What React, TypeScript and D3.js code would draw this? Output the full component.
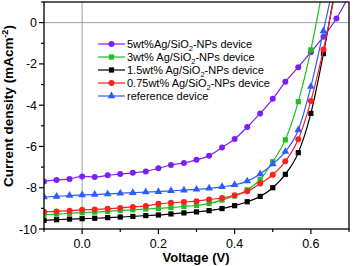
import * as d3 from "d3";

const VOLTAGE = [
  -0.1, -0.067, -0.033, 0, 0.033, 0.067, 0.1, 0.133, 0.167, 0.2, 0.233, 0.267,
  0.3, 0.333, 0.367, 0.4, 0.433, 0.467, 0.5, 0.533, 0.567, 0.6, 0.633, 0.667, 0.7,
];

const J_5WT = [
  -7.7, -7.62, -7.58, -7.45, -7.48, -7.4, -7.34, -7.28, -7.21, -7.06, -6.9, -6.8,
  -6.65, -6.45, -6.05, -5.64, -5.06, -4.4, -3.69, -2.87, -2.16, -1.43, -0.68, 0.2, 1.3,
];
const J_3WT = [
  -9.31, -9.28, -9.24, -9.21, -9.18, -9.15, -9.1, -9.07, -9.03, -9.0, -8.96, -8.91,
  -8.86, -8.76, -8.6, -8.4, -8.1, -7.6, -6.74, -5.68, -3.83, -1.32, 1.85,
];
const J_15WT = [
  -9.58, -9.55, -9.52, -9.5, -9.48, -9.45, -9.42, -9.39, -9.35, -9.32, -9.27, -9.22,
  -9.17, -9.11, -9.01, -8.87, -8.68, -8.42, -8.0, -7.35, -6.3, -4.4, -1.5, 2.0,
];
const J_075WT = [
  -9.17, -9.15, -9.11, -9.07, -9.05, -9.02, -8.98, -8.93, -8.89, -8.78, -8.73, -8.69,
  -8.65, -8.57, -8.5, -8.37, -8.17, -7.8, -7.37, -6.72, -5.65, -3.8, -1.3, 1.8,
];
const J_REF = [
  -8.45, -8.42, -8.38, -8.35, -8.33, -8.3, -8.27, -8.24, -8.21, -8.19, -8.15, -8.12,
  -8.08, -8.03, -7.95, -7.86, -7.68, -7.33, -6.85, -6.25, -5.2, -3.1, -0.4, 2.5,
];

const SERIES = [
  { name: "5wt%Ag/SiO", rest: "-NPs device", values: J_5WT, color: "#7c1ff5", marker: "circle" },
  { name: "3wt% Ag/SiO", rest: "-NPs device", values: J_3WT, color: "#1fbf1f", marker: "square" },
  { name: "1.5wt% Ag/SiO", rest: "-NPs device", values: J_15WT, color: "#000000", marker: "square" },
  { name: "0.75wt% Ag/SiO", rest: "-NPs device", values: J_075WT, color: "#ff1f1f", marker: "circle" },
  { name: "reference device", rest: "", values: J_REF, color: "#2a5cff", marker: "triangle" },
];

const X_TICKS = [0.0, 0.2, 0.4, 0.6];
const X_MINOR = [-0.1, 0.1, 0.3, 0.5, 0.7];
const Y_TICKS = [0, -2, -4, -6, -8, -10];
const Y_MINOR = [1, -1, -3, -5, -7, -9];

const W = 354;
const H = 266;
const M = { left: 44, right: 5, top: 2, bottom: 37 };

function Marker({ type, x, y, color }: { type: string; x: number; y: number; color: string }) {
  if (type === "square") {
    return <rect x={x - 2.6} y={y - 2.6} width={5.2} height={5.2} fill={color} />;
  }
  if (type === "triangle") {
    const s = d3.symbol().type(d3.symbolTriangle).size(26)();
    return <path d={s || ""} transform={`translate(${x},${y})`} fill={color} />;
  }
  return <circle cx={x} cy={y} r={3} fill={color} />;
}

export default function App() {
  const x = d3.scaleLinear().domain([-0.1, 0.7]).range([M.left, W - M.right]);
  const y = d3.scaleLinear().domain([-10, 1]).range([H - M.bottom, M.top]);
  const line = d3
    .line<number>()
    .x((_, i) => x(VOLTAGE[i]))
    .y((d) => y(d))
    .curve(d3.curveMonotoneX);

  const font = "Arial, 'Liberation Sans', sans-serif";

  return (
    <svg
      width={W}
      height={H}
      style={{ position: "fixed", left: 0, top: 0, background: "#fff" }}
      fontFamily={font}
    >
      <defs>
        <clipPath id="plot">
          <rect x={M.left} y={M.top} width={W - M.left - M.right} height={H - M.top - M.bottom} />
        </clipPath>
      </defs>

      {/* zero lines */}
      <line x1={x(0)} x2={x(0)} y1={M.top} y2={H - M.bottom} stroke="#93a7b0" strokeWidth={1} />
      <line x1={M.left} x2={W - M.right} y1={y(0)} y2={y(0)} stroke="#93a7b0" strokeWidth={1} />

      <g clipPath="url(#plot)">
        {SERIES.map((s) => (
          <g key={s.name}>
            <path d={line(s.values) || ""} fill="none" stroke={s.color} strokeWidth={1.2} />
            {s.values.map((v, i) => (
              <Marker key={i} type={s.marker} x={x(VOLTAGE[i])} y={y(v)} color={s.color} />
            ))}
          </g>
        ))}
      </g>

      {/* frame */}
      <rect
        x={M.left}
        y={M.top}
        width={W - M.left - M.right}
        height={H - M.top - M.bottom}
        fill="none"
        stroke="#000"
        strokeWidth={1.3}
      />

      {/* x axis */}
      {X_TICKS.map((t) => (
        <g key={t}>
          <line x1={x(t)} x2={x(t)} y1={H - M.bottom} y2={H - M.bottom + 5} stroke="#000" strokeWidth={1.2} />
          <text x={x(t)} y={H - M.bottom + 19} textAnchor="middle" fontSize={12.5}>
            {d3.format(".1f")(t)}
          </text>
        </g>
      ))}
      {X_MINOR.map((t) => (
        <line key={t} x1={x(t)} x2={x(t)} y1={H - M.bottom} y2={H - M.bottom + 3} stroke="#000" strokeWidth={1.2} />
      ))}
      <text x={196} y={262} textAnchor="middle" fontSize={13} fontWeight="bold">
        Voltage (V)
      </text>

      {/* y axis */}
      {Y_TICKS.map((t) => (
        <g key={t}>
          <line x1={M.left - 5} x2={M.left} y1={y(t)} y2={y(t)} stroke="#000" strokeWidth={1.2} />
          <text x={M.left - 7} y={y(t) + 4.5} textAnchor="end" fontSize={12.5}>
            {t}
          </text>
        </g>
      ))}
      {Y_MINOR.map((t) => (
        <line key={t} x1={M.left - 3} x2={M.left} y1={y(t)} y2={y(t)} stroke="#000" strokeWidth={1.2} />
      ))}
      <text
        transform={`translate(13,106) rotate(-90)`}
        textAnchor="middle"
        fontSize={13.5}
        fontWeight="bold"
      >
        Current density (mAcm
        <tspan fontSize={9} dy={-5}>-2</tspan>
        <tspan dy={5}>)</tspan>
      </text>

      {/* legend */}
      {SERIES.map((s, i) => {
        const ly = 44 + i * 13;
        return (
          <g key={s.name}>
            <line x1={98} x2={125} y1={ly} y2={ly} stroke={s.color} strokeWidth={1.2} />
            <Marker type={s.marker} x={111.5} y={ly} color={s.color} />
            <text x={127} y={ly + 4} fontSize={11}>
              {s.name}
              {s.rest && (
                <>
                  <tspan fontSize={7.5} dy={2.5}>2</tspan>
                  <tspan dy={-2.5}>{s.rest}</tspan>
                </>
              )}
            </text>
          </g>
        );
      })}
    </svg>
  );
}
